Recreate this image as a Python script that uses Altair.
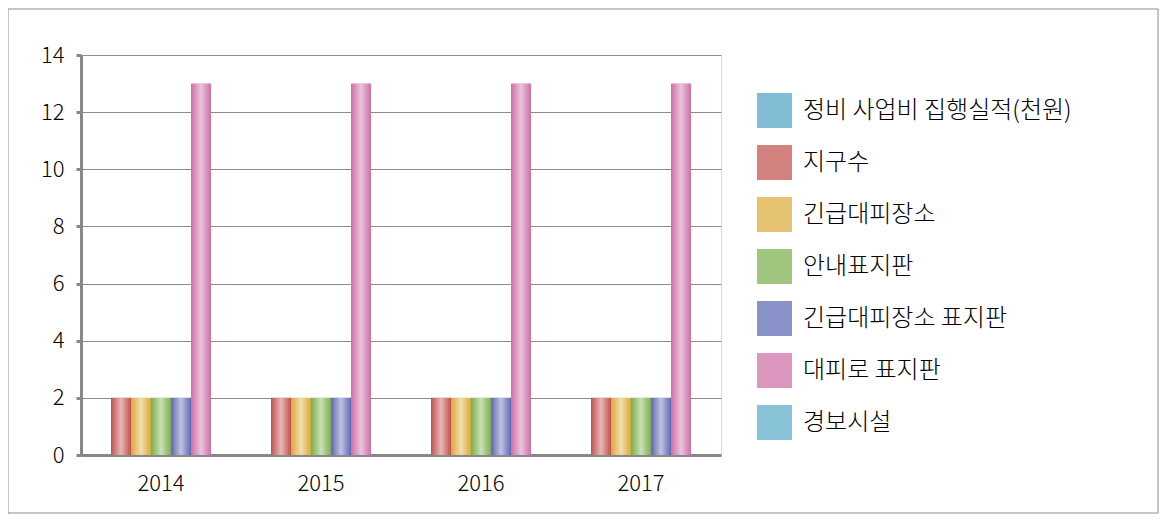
import altair as alt
import pandas as pd

years = ["2014", "2015", "2016", "2017"]
series_names = ["정비 사업비 집행실적(천원)", "지구수", "긴급대피장소", "안내표지판",
                "긴급대피장소 표지판", "대피로 표지판", "경보시설"]
v_budget = [0, 0, 0, 0]
v_district = [2, 2, 2, 2]
v_shelter = [2, 2, 2, 2]
v_guide = [2, 2, 2, 2]
v_shelter_sign = [2, 2, 2, 2]
v_route_sign = [13, 13, 13, 13]
v_alarm = [0, 0, 0, 0]
colors = ["#4fa3c4", "#c0504d", "#d9aa3a", "#7caf4e", "#5d68b5", "#cf6fa5", "#5aaac8"]

all_vals = [v_budget, v_district, v_shelter, v_guide, v_shelter_sign, v_route_sign, v_alarm]
rows = []
for s, vals in zip(series_names, all_vals):
    for y, v in zip(years, vals):
        rows.append({"year": y, "series": s, "value": v})
df = pd.DataFrame(rows)

FONT = "Noto Sans CJK KR"
W, H = 640, 400

x_enc = alt.X("year:N", sort=years, title=None,
              scale=alt.Scale(paddingInner=0.125, paddingOuter=0.0625),
              axis=alt.Axis(labelAngle=0, labelFontSize=22, labelFont=FONT, labelColor="#000000",
                            labelFontWeight=300,
                            domainColor="#888888", domainWidth=3, ticks=False, labelPadding=18,
                            grid=False))
xo_enc = alt.XOffset("series:N", sort=series_names, scale=alt.Scale(domain=series_names, paddingInner=0, paddingOuter=0))
y_enc = alt.Y("value:Q", title=None,
              scale=alt.Scale(domain=[0, 14], nice=False),
              axis=alt.Axis(values=list(range(0, 15, 2)), labelFontSize=22, labelFont=FONT,
                            labelFontWeight=300,
                            labelColor="#000000", domainColor="#888888", domainWidth=3,
                            tickColor="#888888", tickWidth=3, tickSize=5, labelPadding=12,
                            gridColor="#8c8c8c", gridWidth=1))

base = alt.Chart(df)

bars = base.mark_bar(stroke=None).encode(
    x=x_enc, xOffset=xo_enc, y=y_enc,
    color=alt.Color("series:N", sort=series_names,
                    scale=alt.Scale(domain=series_names, range=colors),
                    legend=alt.Legend(title=None, orient="none", legendX=676, legendY=38,
                                      symbolType="square", symbolSize=1225, symbolOpacity=0.72,
                                      symbolStrokeWidth=0,
                                      labelFontSize=24, labelFont=FONT, labelColor="#000000",
                                      labelFontWeight=300,
                                      labelLimit=500, labelOffset=11, rowPadding=17, padding=0)),
)

shine = base.mark_bar(
    color=alt.LinearGradient(
        gradient="linear", x1=0, x2=1, y1=0, y2=0,
        stops=[alt.GradientStop(color="rgba(255,255,255,0)", offset=0),
               alt.GradientStop(color="rgba(255,255,255,0.6)", offset=0.5),
               alt.GradientStop(color="rgba(255,255,255,0)", offset=1)])
).encode(x=x_enc, xOffset=xo_enc, y=y_enc)

border = alt.Chart(pd.DataFrame({"a": [0]})).mark_rect(
    fill=None, stroke="#8c8c8c", strokeWidth=1
).encode(x=alt.value(-73), x2=alt.value(1077), y=alt.value(-46), y2=alt.value(458))

chart = alt.layer(border, bars, shine).properties(
    width=W, height=H,
    autosize=alt.AutoSizeParams(type="none"),
    padding={"left": 73, "top": 47, "right": 438, "bottom": 59},
).configure_view(stroke=None).configure(background="#ffffff")

chart.save("out.html", embed_options={"renderer": "svg", "actions": False})
